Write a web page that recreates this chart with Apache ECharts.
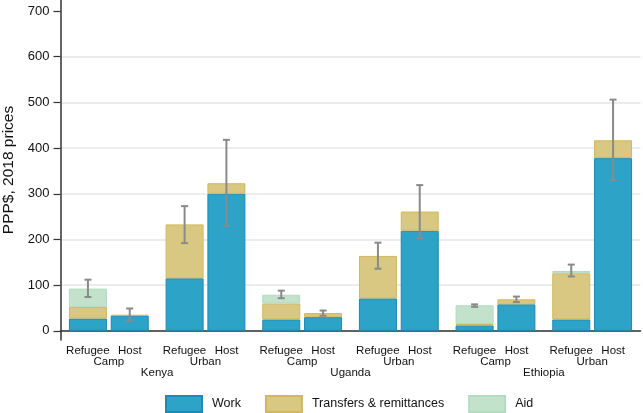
<!DOCTYPE html>
<html>
<head>
<meta charset="utf-8">
<script src="https://cdn.jsdelivr.net/npm/echarts@6/dist/echarts.min.js"></script>
<style>
  html, body { margin: 0; padding: 0; background: #fff; }
  #main { width: 643px; height: 413px; }
</style>
</head>
<body>
<div id="main"></div>
<script>
// settings and countries
var settings = ['Camp', 'Urban', 'Camp', 'Urban', 'Camp', 'Urban'];
var countries = ['Kenya', 'Uganda', 'Ethiopia'];
var yTicks = [0, 100, 200, 300, 400, 500, 600, 700];

// refugees (left bar of each pair)
var refWork      = [27, 115, 25, 71, 12, 25];
var refTransfers = [25.5, 118, 35, 93, 3, 101];
var refAid       = [40, 0, 19, 0, 41, 5];
var refLow       = [74, 192, 71.5, 136, 52.5, 119];
var refHigh      = [112, 273, 88, 193, 58, 145];

// hosts (right bar of each pair)
var hostWork      = [33, 300, 30, 219, 58, 378];
var hostTransfers = [2, 23, 9, 42, 11, 39];
var hostAid       = [0, 0, 0, 0, 0, 0];
var hostLow       = [22.5, 230, 33, 203, 63, 330];
var hostHigh      = [49, 418, 44.5, 319, 75, 506];

var FONT = 'Liberation Sans';
var BAR_W = 38;
var GAP = '10%';
var half = (BAR_W + BAR_W * 0.1) / 2;

var colWork = { color: '#2ea3c8', borderColor: '#1b8ab6', borderWidth: 1 };
var colTrans = { color: '#d9c882', borderColor: '#d3b75c', borderWidth: 1 };
var colAid = { color: '#c3e2cc', borderColor: '#b2dbbf', borderWidth: 1 };

function bar(name, stack, data, style) {
    return {
        name: name,
        type: 'bar',
        stack: stack,
        barWidth: BAR_W,
        barGap: GAP,
        itemStyle: style,
        emphasis: { disabled: true },
        // empty segments are not drawn at all
        data: data.map(function (v) { return v === 0 ? '-' : v; })
    };
}

var ebars = [];
for (var i = 0; i < settings.length; i++) {
    ebars.push([i, refLow[i], refHigh[i], -1]);
    ebars.push([i, hostLow[i], hostHigh[i], 1]);
}

var myChart = echarts.init(document.getElementById('main'));

var option = {
    animation: false,
    textStyle: { fontFamily: FONT },
    grid: { left: 60.5, right: 2.5, top: 0, bottom: 73, outerBoundsMode: 'none', containLabel: false },
    legend: {
        left: 160,
        top: 390,
        icon: 'rect',
        itemWidth: 36,
        itemHeight: 16,
        itemGap: 24,
        textStyle: { fontFamily: FONT, fontSize: 12.5, color: '#111', padding: [0, 0, 0, 5] },
        data: ['Work', 'Transfers & remittances', 'Aid']
    },
    xAxis: [{
        type: 'category',
        data: settings,
        position: 'bottom',
        axisLine: { lineStyle: { color: '#333', width: 1.5 } },
        axisTick: { show: false },
        axisLabel: {
            margin: 5,
            interval: 0,
            formatter: function (v) {
                return '{a|Refugee}{b|Host}\n{c|' + v + '}';
            },
            rich: {
                a: { width: 42, align: 'center', fontSize: 11.5, lineHeight: 11, fontFamily: FONT, color: '#111' },
                b: { width: 42, align: 'center', fontSize: 11.5, lineHeight: 11, fontFamily: FONT, color: '#111' },
                c: { align: 'center', fontSize: 11.5, lineHeight: 11, fontFamily: FONT, color: '#111' }
            }
        }
    }, {
        type: 'category',
        data: countries,
        position: 'bottom',
        axisLine: { show: false },
        axisTick: { show: false },
        axisLabel: { margin: 27, fontSize: 11.5, lineHeight: 11, fontFamily: FONT, color: '#111' }
    }],
    yAxis: {
        type: 'value',
        min: -20,
        max: 724,
        name: 'PPP$, 2018 prices',
        nameLocation: 'middle',
        nameGap: 42,
        nameTextStyle: { fontSize: 15.5, fontFamily: FONT, color: '#111' },
        axisLine: { show: true, lineStyle: { color: '#333', width: 1.5 } },
        axisTick: { show: true, length: 7, customValues: yTicks, lineStyle: { color: '#333', width: 1.2 } },
        axisLabel: { margin: 11, fontSize: 13, color: '#111', fontFamily: FONT, customValues: yTicks },
        splitLine: {
            show: true,
            lineStyle: {
                color: ['#e6e6e6', '#e6e6e6', '#e6e6e6', '#e6e6e6', '#e6e6e6', '#e6e6e6', '#e6e6e6', 'rgba(0,0,0,0)'],
                width: 1.5
            }
        }
    },
    series: [
        bar('Work', 'ref', refWork, colWork),
        bar('Transfers & remittances', 'ref', refTransfers, colTrans),
        bar('Aid', 'ref', refAid, colAid),
        bar('Work', 'host', hostWork, colWork),
        bar('Transfers & remittances', 'host', hostTransfers, colTrans),
        bar('Aid', 'host', hostAid, colAid),
        {
            type: 'custom',
            name: 'ci',
            silent: true,
            z: 10,
            data: ebars,
            renderItem: function (params, api) {
                var side = api.value(3);
                var lo = api.coord([api.value(0), api.value(1)]);
                var hi = api.coord([api.value(0), api.value(2)]);
                var x = lo[0] + side * half;
                var cap = 3.5;
                var st = { stroke: '#8a8a8a', lineWidth: 2 };
                return {
                    type: 'group',
                    children: [
                        { type: 'line', shape: { x1: x, y1: lo[1], x2: x, y2: hi[1] }, style: st },
                        { type: 'line', shape: { x1: x - cap, y1: lo[1], x2: x + cap, y2: lo[1] }, style: st },
                        { type: 'line', shape: { x1: x - cap, y1: hi[1], x2: x + cap, y2: hi[1] }, style: st }
                    ]
                };
            }
        }
    ]
};

myChart.setOption(option);
</script>
</body>
</html>
